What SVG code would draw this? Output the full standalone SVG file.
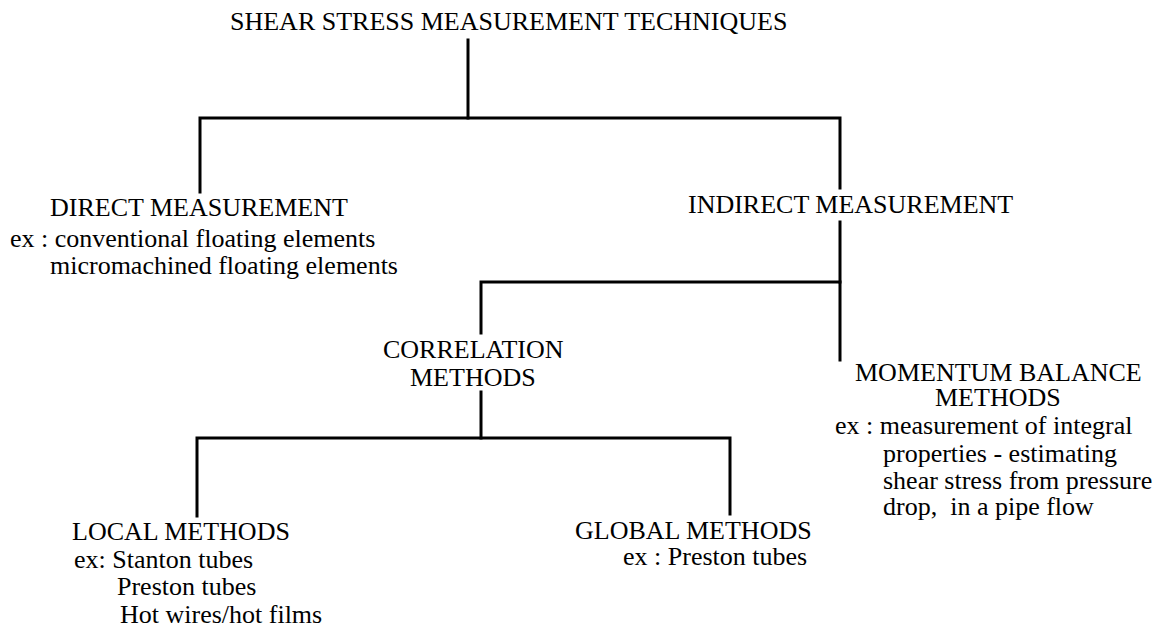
<svg xmlns="http://www.w3.org/2000/svg" width="1169" height="630" viewBox="0 0 1169 630">
<style>
text{font-family:"Liberation Serif","Times New Roman",serif;font-size:26px;fill:#000;white-space:pre}
.c{stroke:#000;stroke-width:3;fill:none;stroke-linecap:square;stroke-linejoin:miter}
</style>
<rect width="1169" height="630" fill="#fff"/>
<g id="connectors" class="c">
<path d="M468 40V118"/>
<path d="M200 192V118H840V188"/>
<path d="M840 222V282"/>
<path d="M481 333V282H840V360"/>
<path d="M481 392V438"/>
<path d="M197 516V438H730V514"/>
</g>
<g id="root"><text x="230" y="30">SHEAR STRESS MEASUREMENT TECHNIQUES</text></g>
<g id="direct">
<text x="50" y="216">DIRECT MEASUREMENT</text>
<text x="10" y="247">ex : conventional floating elements</text>
<text x="50" y="274">micromachined floating elements</text>
</g>
<g id="indirect"><text x="688" y="213">INDIRECT MEASUREMENT</text></g>
<g id="correlation">
<text x="383" y="358">CORRELATION</text>
<text x="410" y="386">METHODS</text>
</g>
<g id="momentum">
<text x="855" y="381">MOMENTUM BALANCE</text>
<text x="935" y="406">METHODS</text>
<text x="835" y="434">ex : measurement of integral</text>
<text x="883" y="462">properties - estimating</text>
<text x="883" y="489">shear stress from pressure</text>
<text x="883" y="515">drop,  in a pipe flow</text>
</g>
<g id="local">
<text x="72" y="540">LOCAL METHODS</text>
<text x="74" y="568">ex: Stanton tubes</text>
<text x="117" y="595">Preston tubes</text>
<text x="120" y="623">Hot wires/hot films</text>
</g>
<g id="global">
<text x="575" y="539">GLOBAL METHODS</text>
<text x="623" y="565">ex : Preston tubes</text>
</g>
</svg>
